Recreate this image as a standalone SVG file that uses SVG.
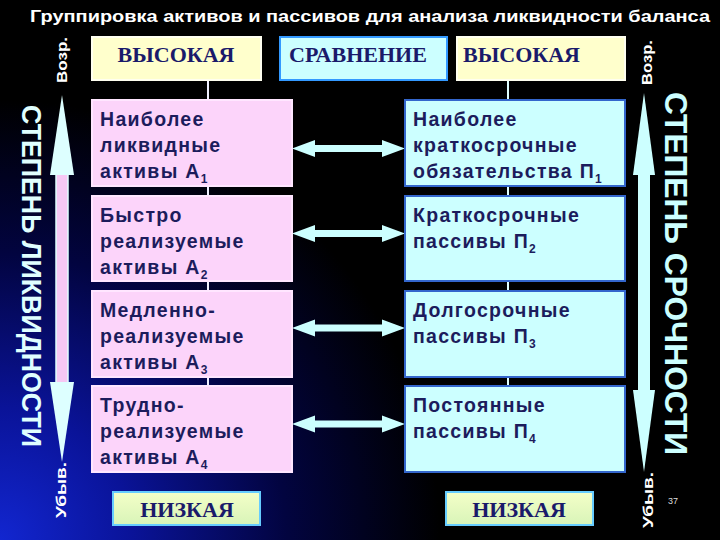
<svg xmlns="http://www.w3.org/2000/svg" xmlns:xlink="http://www.w3.org/1999/xlink" width="720" height="540" viewBox="0 0 720 540">
<defs>
<radialGradient id="bg" cx="0" cy="540" r="440" gradientUnits="userSpaceOnUse">
<stop offset="0" stop-color="#1226d0"/>
<stop offset="0.3" stop-color="#0a1398"/>
<stop offset="0.65" stop-color="#020440"/>
<stop offset="1" stop-color="#000000"/>
</radialGradient>
<linearGradient id="low" x1="0" y1="0" x2="0" y2="1">
<stop offset="0" stop-color="#f4ffc8"/>
<stop offset="1" stop-color="#d8f4b8"/>
</linearGradient>
<path id="dbl" d="M0,0 L23,-8.5 L23,-3.5 L90,-3.5 L90,-8.5 L113,0 L90,8.5 L90,3.5 L23,3.5 L23,8.5 Z"/>
<style>
.t{font-family:"Liberation Sans",Arial,sans-serif;font-weight:bold;font-size:19.5px;fill:#1c1c5c;letter-spacing:1.3px}
.s{font-size:12px}
.hd{font-family:"Liberation Serif","Times New Roman",serif;font-weight:bold;font-size:22px;fill:#1a1a6a}
.pink{fill:#fcd4fa;stroke:#ffe6ff;stroke-width:2}
.cyan{fill:#ccffff;stroke:#3366cc;stroke-width:2}
.yel{fill:#ffffcc;stroke:#fffff0;stroke-width:2}
.cmp{fill:#ccffff;stroke:#3399ff;stroke-width:2}
.low{fill:url(#low);stroke:#66ccff;stroke-width:2}
.v{font-family:"Liberation Sans",Arial,sans-serif;font-weight:bold;font-size:15px;fill:#ffffff}
.big{font-family:"Liberation Sans",Arial,sans-serif;font-weight:bold}
</style>
</defs>
<rect width="720" height="540" fill="url(#bg)"/>
<text x="30" y="22" font-family="Liberation Sans, Arial, sans-serif" font-weight="bold" font-size="17" fill="#ffffff" textLength="680" lengthAdjust="spacingAndGlyphs">Группировка активов и пассивов для анализа ликвидности баланса</text>

<g id="connectors">
<line x1="208" y1="80" x2="208" y2="472" stroke="#f0f0ff" stroke-width="2"/>
<line x1="508" y1="80" x2="508" y2="472" stroke="#e0ffff" stroke-width="2"/>
<g fill="#ccffff">
<use xlink:href="#dbl" transform="translate(292,148.5)"/>
<use xlink:href="#dbl" transform="translate(292,233.5)"/>
<use xlink:href="#dbl" transform="translate(292,328)"/>
<use xlink:href="#dbl" transform="translate(292,424)"/>
</g>
<g id="arrowLeft">
<rect x="56" y="170" width="12" height="216" fill="#f6c8f4" stroke="#e0ffff" stroke-width="1.5"/>
<polygon points="62,95 74,175 50,175" fill="#ddffff"/>
<polygon points="50,382 74,382 62,462" fill="#ddffff"/>
</g>
<g id="arrowRight">
<rect x="638" y="170" width="12" height="225" fill="#ccffff"/>
<polygon points="644,93 655,175 633,175" fill="#ccffff"/>
<polygon points="633,390 655,390 644,472" fill="#ccffff"/>
</g>
</g>

<g id="hdr-left"><rect class="yel" x="92" y="37" width="169" height="43"/><text class="hd" x="176" y="62" text-anchor="middle">ВЫСОКАЯ</text></g>
<g id="hdr-mid"><rect class="cmp" x="280" y="37" width="167" height="43"/><text class="hd" x="358" y="62" text-anchor="middle">СРАВНЕНИЕ</text></g>
<g id="hdr-right"><rect class="yel" x="457" y="37" width="168" height="43"/><text class="hd" x="463" y="62">ВЫСОКАЯ</text></g>

<g id="a1"><rect class="pink" x="92" y="100" width="200" height="86"/>
<text class="t" x="100" y="126">Наиболее</text><text class="t" x="100" y="152">ликвидные</text><text class="t" x="100" y="178">активы А<tspan class="s" dy="5">1</tspan></text></g>
<g id="a2"><rect class="pink" x="92" y="196" width="200" height="85"/>
<text class="t" x="100" y="222">Быстро</text><text class="t" x="100" y="248">реализуемые</text><text class="t" x="100" y="274">активы А<tspan class="s" dy="5">2</tspan></text></g>
<g id="a3"><rect class="pink" x="92" y="291" width="200" height="86"/>
<text class="t" x="100" y="317">Медленно-</text><text class="t" x="100" y="343">реализуемые</text><text class="t" x="100" y="369">активы А<tspan class="s" dy="5">3</tspan></text></g>
<g id="a4"><rect class="pink" x="92" y="386" width="200" height="86"/>
<text class="t" x="100" y="412">Трудно-</text><text class="t" x="100" y="438">реализуемые</text><text class="t" x="100" y="464">активы А<tspan class="s" dy="5">4</tspan></text></g>

<g id="p1"><rect class="cyan" x="405" y="100" width="220" height="86"/>
<text class="t" x="413" y="126">Наиболее</text><text class="t" x="413" y="152">краткосрочные</text><text class="t" x="413" y="178">обязательства П<tspan class="s" dy="5">1</tspan></text></g>
<g id="p2"><rect class="cyan" x="405" y="196" width="220" height="85"/>
<text class="t" x="413" y="222">Краткосрочные</text><text class="t" x="413" y="248">пассивы П<tspan class="s" dy="5">2</tspan></text></g>
<g id="p3"><rect class="cyan" x="405" y="291" width="220" height="86"/>
<text class="t" x="413" y="317">Долгосрочные</text><text class="t" x="413" y="343">пассивы П<tspan class="s" dy="5">3</tspan></text></g>
<g id="p4"><rect class="cyan" x="405" y="386" width="220" height="86"/>
<text class="t" x="413" y="412">Постоянные</text><text class="t" x="413" y="438">пассивы П<tspan class="s" dy="5">4</tspan></text></g>

<g id="low-left"><rect class="low" x="113" y="492" width="147" height="33"/><text class="hd" x="187" y="517" text-anchor="middle" font-size="21">НИЗКАЯ</text></g>
<g id="low-right"><rect class="low" x="446" y="492" width="147" height="33"/><text class="hd" x="519" y="517" text-anchor="middle" font-size="21">НИЗКАЯ</text></g>

<g id="labels">
<text class="v" transform="translate(67,83) rotate(-90)" textLength="46" lengthAdjust="spacingAndGlyphs">Возр.</text>
<text class="v" transform="translate(652,85) rotate(-90)" textLength="45" lengthAdjust="spacingAndGlyphs">Возр.</text>
<text class="v" transform="translate(66,518) rotate(-90)" textLength="56" lengthAdjust="spacingAndGlyphs">Убыв.</text>
<text class="v" transform="translate(653,528) rotate(-90)" textLength="56" lengthAdjust="spacingAndGlyphs">Убыв.</text>
<text class="big" font-size="28" fill="#e0ffff" transform="translate(22,105) rotate(90)" textLength="342" lengthAdjust="spacingAndGlyphs">СТЕПЕНЬ ЛИКВИДНОСТИ</text>
<text class="big" font-size="32" fill="#ccffff" transform="translate(665,92) rotate(90)" textLength="363" lengthAdjust="spacingAndGlyphs">СТЕПЕНЬ СРОЧНОСТИ</text>
<text x="668" y="504" font-family="Liberation Sans, Arial, sans-serif" font-size="9" fill="#dddddd">37</text>
</g>
</svg>
